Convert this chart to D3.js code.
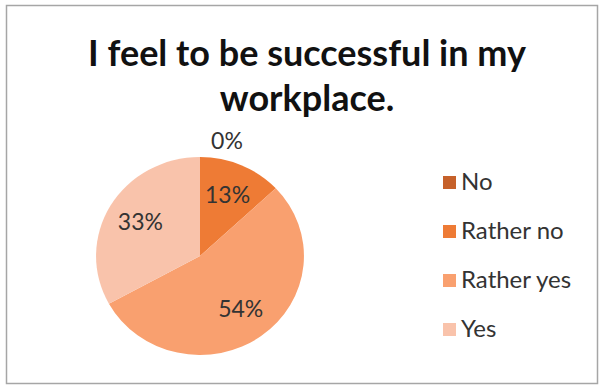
<!DOCTYPE html>
<html>
<head>
<meta charset="utf-8">
<script src="https://cdn.jsdelivr.net/npm/d3@7"></script>
<style>
  html, body { margin: 0; padding: 0; background: #fff; }
  svg { display: block; }
  text { font-family: Lato, "Open Sans", sans-serif; fill: #1a1a1a; }
</style>
</head>
<body>
<svg id="chart" width="603" height="385"></svg>
<script>
// Survey answers and their shares (percent)
const categories = ["No", "Rather no", "Rather yes", "Yes"];
const shares = [0, 13, 54, 33];
const colors = ["#c6612a", "#ee7b35", "#f9a06f", "#f9c3ab"];
const titleLines = ["I feel to be successful in my", "workplace."];

const svg = d3.select("#chart");

// outer frame
svg.append("rect")
  .attr("x", 6.5).attr("y", 5.5)
  .attr("width", 591).attr("height", 378)
  .attr("fill", "#fff")
  .attr("stroke", "#a6a6a6")
  .attr("stroke-width", 1.5);

// title
svg.append("g").selectAll("text")
  .data(titleLines)
  .join("text")
  .attr("x", 307)
  .attr("y", (d, i) => 66 + i * 45)
  .attr("text-anchor", "middle")
  .attr("font-size", 36)
  .attr("font-weight", 700)
  .style("fill", "#111")
  .text(d => d);

// pie
const cx = 200, cy = 256, r = 99, sx = 1.05;
const data = categories.map((c, i) => ({ category: c, value: shares[i], color: colors[i] }));
const pie = d3.pie().value(d => d.value).sort(null).startAngle(0).endAngle(2 * Math.PI);
const arcs = pie(data);
const arc = d3.arc().innerRadius(0).outerRadius(r);

const pieG = svg.append("g").attr("transform", `translate(${cx},${cy}) scale(${sx},1)`);
pieG.selectAll("path")
  .data(arcs)
  .join("path")
  .attr("d", arc)
  .attr("fill", d => d.data.color);

// percentage labels: inside slices, zero share sits just outside the rim
const labelArc = d3.arc().innerRadius(66).outerRadius(66);
svg.append("g").selectAll("text")
  .data(arcs)
  .join("text")
  .attr("transform", d => {
    let x, y;
    if (d.data.value === 0) {
      const a = d.startAngle;
      x = Math.sin(a) * (r + 16) * sx + 27;
      y = -Math.cos(a) * (r + 16);
    } else {
      [x, y] = labelArc.centroid(d);
      x *= sx;
    }
    return `translate(${cx + x},${cy + y})`;
  })
  .attr("text-anchor", "middle")
  .attr("dy", "0.35em")
  .attr("font-size", 23)
  .style("fill", "#333")
  .text(d => d.data.value + "%");

// legend
const legend = svg.append("g").attr("transform", "translate(443,182)");
const rows = legend.selectAll("g")
  .data(data)
  .join("g")
  .attr("transform", (d, i) => `translate(0,${i * 49})`);
rows.append("rect")
  .attr("x", 0).attr("y", -6)
  .attr("width", 13).attr("height", 13)
  .attr("fill", d => d.color);
rows.append("text")
  .attr("x", 18)
  .attr("dy", "0.35em")
  .attr("font-size", 24)
  .style("fill", "#333")
  .text(d => d.category);
</script>
</body>
</html>
